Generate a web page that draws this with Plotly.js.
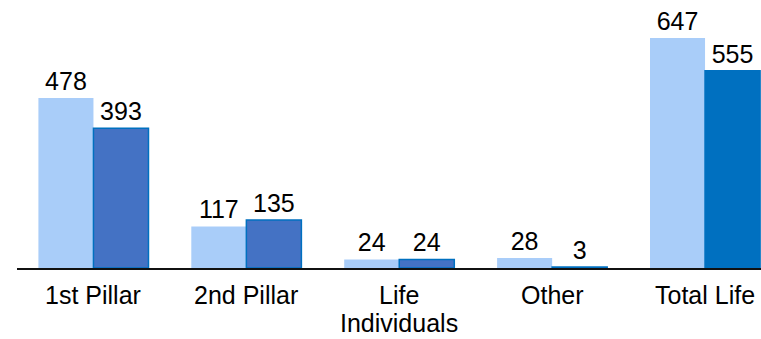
<!DOCTYPE html>
<html>
<head>
<meta charset="utf-8">
<script src="https://cdn.plot.ly/plotly-3.0.1.min.js"></script>
<style>
  html, body { margin: 0; padding: 0; overflow: hidden; background: #fff; }
  #chart { width: 761px; height: 339px; }
</style>
</head>
<body>
<div id="chart"></div>
<script>
const categories = ["1st Pillar", "2nd Pillar", "Life Individuals", "Other", "Total Life"];
const tickLines = [["1st Pillar"], ["2nd Pillar"], ["Life", "Individuals"], ["Other"], ["Total Life"]];
const seriesA = [478, 117, 24, 28, 647];
const seriesB = [393, 135, 24, 3, 555];

const lightBlue = "#a9cdf9";
const darkFill = ["#4472c4", "#4472c4", "#4472c4", "#4472c4", "#0070c0"];
const darkLine = "#0070c0";
const font = "Liberation Sans, Arial, sans-serif";

const traces = [
  {
    type: "bar",
    x: categories,
    y: seriesA,
    marker: { color: lightBlue, line: { width: 0 } },
    text: seriesA.map(String),
    textposition: "outside",
    textfont: { family: font, size: 25, color: "#000" },
    cliponaxis: false,
    hoverinfo: "none"
  },
  {
    type: "bar",
    x: categories,
    y: seriesB,
    marker: { color: darkFill, line: { color: darkLine, width: 1.5 } },
    text: seriesB.map(String),
    textposition: "outside",
    textfont: { family: font, size: 25, color: "#000" },
    cliponaxis: false,
    hoverinfo: "none"
  }
];

// category labels drawn line by line so the line spacing matches
const annotations = [];
categories.forEach((cat, i) => {
  tickLines[i].forEach((line, j) => {
    annotations.push({
      x: cat, xref: "x",
      y: 0, yref: "y",
      yanchor: "top",
      xanchor: "center",
      yshift: -11 - j * 28,
      text: line,
      showarrow: false,
      font: { family: font, size: 25, color: "#000" }
    });
  });
});

const layout = {
  width: 761,
  height: 339,
  margin: { l: 17, r: 0, t: 0, b: 71 },
  paper_bgcolor: "#fff",
  plot_bgcolor: "#fff",
  showlegend: false,
  barmode: "group",
  bargap: 0.28,
  bargroupgap: 0,
  xaxis: {
    type: "category",
    range: [-0.5, 4.366],
    showline: true,
    linecolor: "#111",
    linewidth: 1.5,
    ticks: "",
    showticklabels: false,
    showgrid: false,
    zeroline: false,
    fixedrange: true
  },
  yaxis: {
    range: [0, 753.7],
    visible: false,
    showgrid: false,
    zeroline: false,
    fixedrange: true
  },
  annotations: annotations
};

Plotly.newPlot("chart", traces, layout, { displayModeBar: false, staticPlot: true });
</script>
</body>
</html>
